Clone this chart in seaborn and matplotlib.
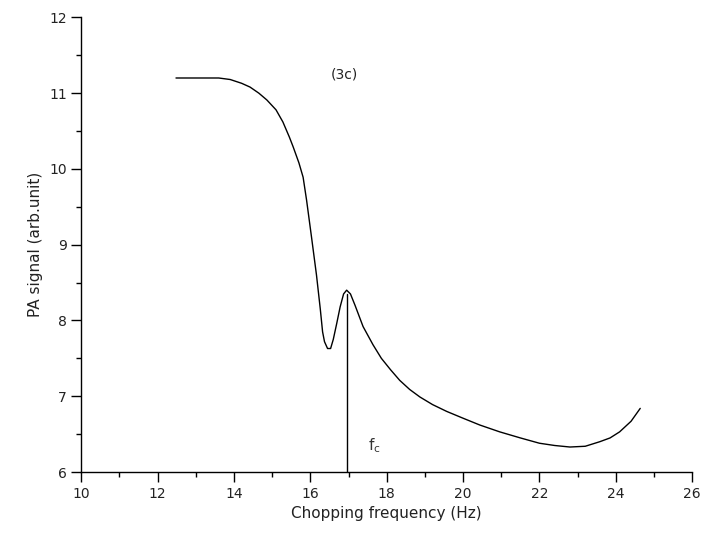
import numpy as np
import pandas as pd
import matplotlib
matplotlib.use("Agg")
import matplotlib.pyplot as plt
from matplotlib.ticker import MultipleLocator
import seaborn as sns

# values
freq = [12.48, 13.0, 13.6, 13.9, 14.2, 14.42, 14.65, 14.86, 15.1, 15.28, 15.45,
        15.55, 15.7, 15.81, 15.9, 16.03, 16.16, 16.26, 16.32, 16.37, 16.45,
        16.53, 16.6, 16.69, 16.78, 16.87, 16.95, 17.05, 17.17, 17.38, 17.64,
        17.86, 18.1, 18.34, 18.6, 18.87, 19.2, 19.57, 20.0, 20.44, 20.96, 21.5,
        22.0, 22.4, 22.8, 23.2, 23.58, 23.85, 24.1, 24.4, 24.64]
signal = [11.2, 11.2, 11.2, 11.18, 11.13, 11.08, 11.0, 10.91, 10.78, 10.62, 10.42,
          10.29, 10.08, 9.89, 9.59, 9.1, 8.6, 8.15, 7.85, 7.72, 7.63,
          7.63, 7.75, 7.96, 8.18, 8.35, 8.40, 8.35, 8.2, 7.92, 7.68,
          7.5, 7.35, 7.21, 7.09, 6.99, 6.89, 6.80, 6.71, 6.62, 6.53, 6.45,
          6.38, 6.35, 6.33, 6.34, 6.40, 6.45, 6.53, 6.67, 6.84]

# critical frequency marker
fc_x = [16.97, 16.97]
fc_y = [6.0, 8.35]

df = pd.DataFrame({"freq": freq, "signal": signal})
df_fc = pd.DataFrame({"freq": fc_x, "signal": fc_y})

sns.set_style("ticks")
plt.rcParams["font.family"] = ["DejaVu Sans"]

fig = plt.figure(figsize=(7.07, 5.33), dpi=100)
ax = fig.add_axes([0.115, 0.1144, 0.864, 0.853])

sns.lineplot(data=df, x="freq", y="signal", ax=ax, color="black",
             linewidth=1.0, sort=False, estimator=None)
sns.lineplot(data=df_fc, x="freq", y="signal", ax=ax, color="black",
             linewidth=1.0, sort=False, estimator=None)

ax.text(16.9, 11.25, "(3c)", ha="center", va="center", fontsize=10, color="#222222")
ax.text(17.52, 6.35, "f$_{\\mathrm{c}}$", ha="left", va="center", fontsize=11, color="#333333")

ax.set_xlim(10, 26)
ax.set_ylim(6, 12)
ax.xaxis.set_major_locator(MultipleLocator(2))
ax.xaxis.set_minor_locator(MultipleLocator(1))
ax.yaxis.set_major_locator(MultipleLocator(1))
ax.yaxis.set_minor_locator(MultipleLocator(0.5))
ax.tick_params(which="major", direction="out", length=7, width=1, labelsize=10,
               labelcolor="#222222", color="black")
ax.tick_params(which="minor", direction="out", length=3.5, width=1, color="black")

ax.set_xlabel("Chopping frequency (Hz)", fontsize=11, color="#222222")
ax.set_ylabel("PA signal (arb.unit)", fontsize=11, color="#222222")

for side in ["top", "right"]:
    ax.spines[side].set_visible(False)
for side in ["left", "bottom"]:
    ax.spines[side].set_color("black")
    ax.spines[side].set_linewidth(1.0)

fig.savefig("out.png", dpi=100)
